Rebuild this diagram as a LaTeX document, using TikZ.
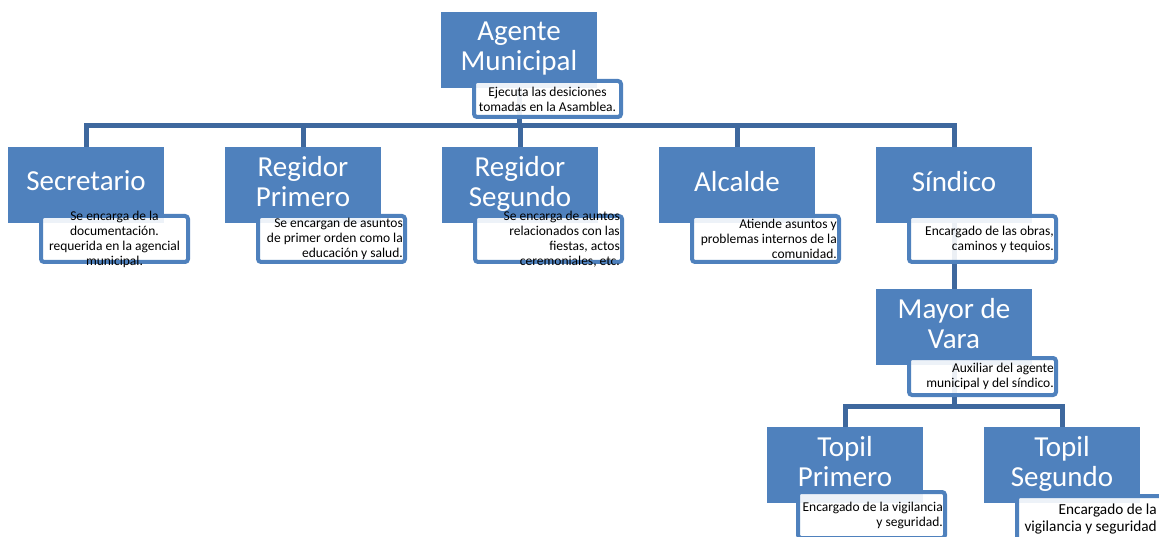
\documentclass[tikz,border=0pt]{standalone}
\usepackage{fontspec}
\setmainfont{Carlito}
\usetikzlibrary{positioning,calc,backgrounds}
\definecolor{ofblue}{RGB}{79,129,189}
\definecolor{ofline}{RGB}{62,104,158}
\tikzstyle{cargo} = [rectangle, minimum width=156pt, minimum height=76pt, inner sep=0pt, outer sep=0pt, fill=ofblue, text=white, align=center, font=\fontsize{29}{30}\selectfont, text depth=8pt]
\tikzstyle{funcion} = [rectangle, rounded corners=3pt, minimum width=147pt, minimum height=46pt, inner sep=0pt, draw=ofblue, line width=4pt, fill=white, fill opacity=0.9, anchor=north west]
\tikzstyle{fntexto} = [inner sep=0pt, align=right, anchor=east, font=\fontsize{13.5}{15}\selectfont]
\tikzstyle{enlace} = [line width=5pt, draw=ofline]
\begin{document}
\begin{tikzpicture}[x=1pt, y=1pt, node distance=61pt]
\useasboundingbox (0,0) rectangle (1159,-537);

% Agente municipal
\node[cargo] (agente) at (519,-50) {Agente\\Municipal};

% Primer nivel
\node[cargo] (sec) at (86,-185) {Secretario};
\node[cargo, right=of sec] (regp) {Regidor\\Primero};
\node[cargo, right=of regp] (regs) {Regidor\\Segundo};
\node[cargo, right=of regs] (alc) {Alcalde};
\node[cargo, right=of alc] (sind) {Síndico};

% Mayor de vara y topiles
\node[cargo, below=66pt of sind] (mayor) {Mayor de\\Vara};
\node[cargo, below=62pt of mayor, xshift=-109pt] (topp) {Topil\\Primero};
\node[cargo, right=of topp] (tops) {Topil\\Segundo};

% Cuadros de funciones
\node[funcion, minimum height=36pt] (agentefn) at ([xshift=31pt,yshift=9pt]agente.south west) {};
\node[funcion] (secfn) at ([xshift=31pt,yshift=9pt]sec.south west) {};
\node[funcion] (regpfn) at ([xshift=31pt,yshift=9pt]regp.south west) {};
\node[funcion] (regsfn) at ([xshift=31pt,yshift=9pt]regs.south west) {};
\node[funcion] (alcfn) at ([xshift=31pt,yshift=9pt]alc.south west) {};
\node[funcion] (sindfn) at ([xshift=31pt,yshift=9pt]sind.south west) {};
\node[funcion, minimum height=37pt] (mayorfn) at ([xshift=31pt,yshift=9pt]mayor.south west) {};
\node[funcion] (toppfn) at ([xshift=29pt,yshift=13pt]topp.south west) {};
\node[funcion] (topsfn) at ([xshift=31pt,yshift=9pt]tops.south west) {};

% Textos de funciones
\node[fntexto, align=center, anchor=center] (agentetx) at (agentefn) {Ejecuta las desiciones\\tomadas en la Asamblea.};
\node[fntexto, align=center, anchor=center] (sectx) at (secfn) {Se encarga de la\\documentación.\\requerida en la agencial\\municipal.};
\node[fntexto] (regptx) at ([xshift=-4pt]regpfn.east) {Se encargan de asuntos\\de primer orden como la\\educación y salud.};
\node[fntexto] (regstx) at ([xshift=-4pt]regsfn.east) {Se encarga de auntos\\relacionados con las\\fiestas, actos\\ceremoniales, etc.};
\node[fntexto] (alctx) at ([xshift=-4pt]alcfn.east) {Atiende asuntos y\\problemas internos de la\\comunidad.};
\node[fntexto] (sindtx) at ([xshift=-4pt]sindfn.east) {Encargado de las obras,\\caminos y tequios.};
\node[fntexto] (mayortx) at ([xshift=-4pt]mayorfn.east) {Auxiliar del agente\\municipal y del síndico.};
\node[fntexto] (topptx) at ([xshift=-4pt]toppfn.east) {Encargado de la vigilancia\\y seguridad.};
\node[fntexto, font=\fontsize{15.3}{17}\selectfont] (topstx) at ([xshift=-9pt]topsfn.east) {Encargado de la\\vigilancia y seguridad};

% Conectores
\coordinate (barra) at ($(agente.south)+(0,-37.5)$);
\coordinate (barra2) at ($(mayor.south)+(0,-41)$);
\begin{scope}[on background layer]
\draw[enlace] (agente) -- (barra);
\foreach \n in {sec,regp,regs,alc,sind}
  \draw[enlace] (barra) -| (\n);
\draw[enlace] (sind) -- (mayor);
\draw[enlace] (mayor) -- (barra2);
\foreach \n in {topp,tops}
  \draw[enlace] (barra2) -| (\n);
\end{scope}
\end{tikzpicture}
\end{document}
